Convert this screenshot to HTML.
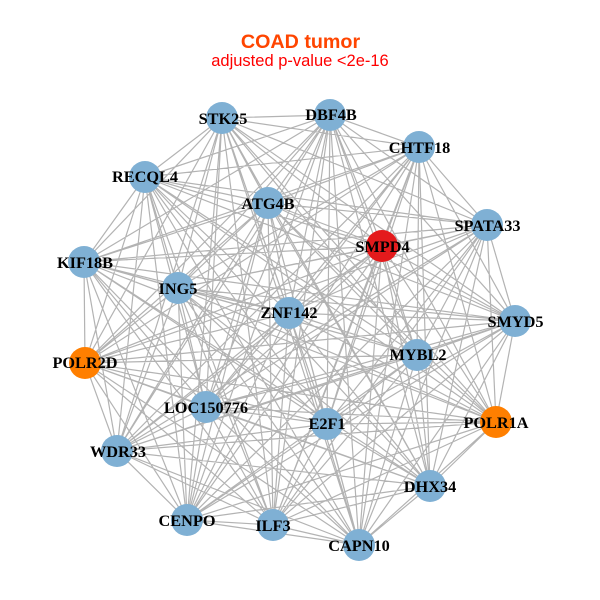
<!DOCTYPE html>
<html><head><meta charset="utf-8"><style>html,body{margin:0;padding:0;background:#fff}svg{display:block}</style></head>
<body>
<svg width="600" height="600" viewBox="0 0 600 600" xmlns="http://www.w3.org/2000/svg">
<rect width="600" height="600" fill="#fff"/>
<path fill="none" stroke="#b3b3b3" stroke-width="1.2" d="
M222 118 330 115 222 118 419 147 222 118 487 225 222 118 382 246 222 118 515 321 222 118 417 355 222 118 496 422 222 118 430 486 222 118 327 424 222 118 359 545 222 118 273 525 222 118 187 520 222 118 117 451 222 118 206 407 222 118 85 363 222 118 84 262 222 118 178 288 222 118 289 313 222 118 268 203 222 118 145 177
M330 115 419 147 330 115 487 225 330 115 382 246 330 115 515 321 330 115 417 355 330 115 496 422 330 115 430 486 330 115 327 424 330 115 359 545 330 115 273 525 330 115 187 520 330 115 117 451 330 115 206 407 330 115 85 363 330 115 84 262 330 115 178 288 330 115 289 313 330 115 268 203 330 115 145 177
M419 147 487 225 419 147 382 246 419 147 515 321 419 147 417 355 419 147 496 422 419 147 430 486 419 147 327 424 419 147 359 545 419 147 273 525 419 147 187 520 419 147 117 451 419 147 206 407 419 147 85 363 419 147 84 262 419 147 178 288 419 147 289 313 419 147 268 203 419 147 145 177
M487 225 382 246 487 225 515 321 487 225 417 355 487 225 496 422 487 225 430 486 487 225 327 424 487 225 359 545 487 225 273 525 487 225 187 520 487 225 117 451 487 225 206 407 487 225 85 363 487 225 84 262 487 225 178 288 487 225 289 313 487 225 268 203 487 225 145 177
M382 246 515 321 382 246 417 355 382 246 496 422 382 246 430 486 382 246 327 424 382 246 359 545 382 246 273 525 382 246 187 520 382 246 117 451 382 246 206 407 382 246 85 363 382 246 84 262 382 246 178 288 382 246 289 313 382 246 268 203 382 246 145 177
M515 321 417 355 515 321 496 422 515 321 430 486 515 321 327 424 515 321 359 545 515 321 273 525 515 321 187 520 515 321 117 451 515 321 206 407 515 321 85 363 515 321 84 262 515 321 178 288 515 321 289 313 515 321 268 203 515 321 145 177
M417 355 496 422 417 355 430 486 417 355 327 424 417 355 359 545 417 355 273 525 417 355 187 520 417 355 117 451 417 355 206 407 417 355 85 363 417 355 84 262 417 355 178 288 417 355 289 313 417 355 268 203 417 355 145 177
M496 422 430 486 496 422 327 424 496 422 359 545 496 422 273 525 496 422 187 520 496 422 117 451 496 422 206 407 496 422 85 363 496 422 84 262 496 422 178 288 496 422 289 313 496 422 268 203 496 422 145 177
M430 486 327 424 430 486 359 545 430 486 273 525 430 486 187 520 430 486 117 451 430 486 206 407 430 486 85 363 430 486 84 262 430 486 178 288 430 486 289 313 430 486 268 203 430 486 145 177
M327 424 359 545 327 424 273 525 327 424 187 520 327 424 117 451 327 424 206 407 327 424 85 363 327 424 84 262 327 424 178 288 327 424 289 313 327 424 268 203 327 424 145 177
M359 545 273 525 359 545 187 520 359 545 117 451 359 545 206 407 359 545 85 363 359 545 84 262 359 545 178 288 359 545 289 313 359 545 268 203 359 545 145 177
M273 525 187 520 273 525 117 451 273 525 206 407 273 525 85 363 273 525 84 262 273 525 178 288 273 525 289 313 273 525 268 203 273 525 145 177
M187 520 117 451 187 520 206 407 187 520 85 363 187 520 84 262 187 520 178 288 187 520 289 313 187 520 268 203 187 520 145 177
M117 451 206 407 117 451 85 363 117 451 84 262 117 451 178 288 117 451 289 313 117 451 268 203 117 451 145 177
M206 407 85 363 206 407 84 262 206 407 178 288 206 407 289 313 206 407 268 203 206 407 145 177
M85 363 84 262 85 363 178 288 85 363 289 313 85 363 268 203 85 363 145 177
M84 262 178 288 84 262 289 313 84 262 268 203 84 262 145 177
M178 288 289 313 178 288 268 203 178 288 145 177
M289 313 268 203 289 313 145 177
M268 203 145 177"/>
<g fill="#7fb0d4">
<circle cx="222" cy="118" r="16"/><circle cx="330" cy="115" r="16"/><circle cx="419" cy="147" r="16"/><circle cx="487" cy="225" r="16"/><circle cx="515" cy="321" r="16"/><circle cx="417" cy="355" r="16"/><circle cx="430" cy="486" r="16"/><circle cx="327" cy="424" r="16"/><circle cx="359" cy="545" r="16"/><circle cx="273" cy="525" r="16"/><circle cx="187" cy="520" r="16"/><circle cx="117" cy="451" r="16"/><circle cx="206" cy="407" r="16"/><circle cx="84" cy="262" r="16"/><circle cx="178" cy="288" r="16"/><circle cx="289" cy="313" r="16"/><circle cx="268" cy="203" r="16"/><circle cx="145" cy="177" r="16"/>
</g>
<circle cx="382" cy="246" r="16" fill="#e41a1c"/>
<circle cx="496" cy="422" r="16" fill="#ff7f00"/>
<circle cx="85" cy="363" r="16" fill="#ff7f00"/>
<g font-family="'Liberation Serif',serif" font-weight="bold" font-size="16.300" fill="#000" text-anchor="middle">
<text x="223" y="124">STK25</text>
<text x="331" y="120">DBF4B</text>
<text x="419.500" y="153">CHTF18</text>
<text x="487.500" y="231">SPATA33</text>
<text x="382.500" y="252">SMPD4</text>
<text x="515.500" y="327">SMYD5</text>
<text x="418" y="360">MYBL2</text>
<text x="496" y="428">POLR1A</text>
<text x="430" y="492">DHX34</text>
<text x="327" y="429">E2F1</text>
<text x="359" y="551">CAPN10</text>
<text x="273" y="531">ILF3</text>
<text x="187" y="526">CENPO</text>
<text x="118" y="457">WDR33</text>
<text x="206" y="413">LOC150776</text>
<text x="85" y="368">POLR2D</text>
<text x="85" y="268">KIF18B</text>
<text x="178" y="294">ING5</text>
<text x="289" y="318">ZNF142</text>
<text x="268" y="209">ATG4B</text>
<text x="145" y="182">RECQL4</text>
</g>
<g font-family="'Liberation Sans',sans-serif" text-anchor="middle">
<text x="300.500" y="48" font-size="19.700" font-weight="bold" fill="#ff4500">COAD tumor</text>
<text x="300" y="66" font-size="16.500" fill="#ff0000">adjusted p-value &lt;2e-16</text>
</g>
</svg>
</body></html>
